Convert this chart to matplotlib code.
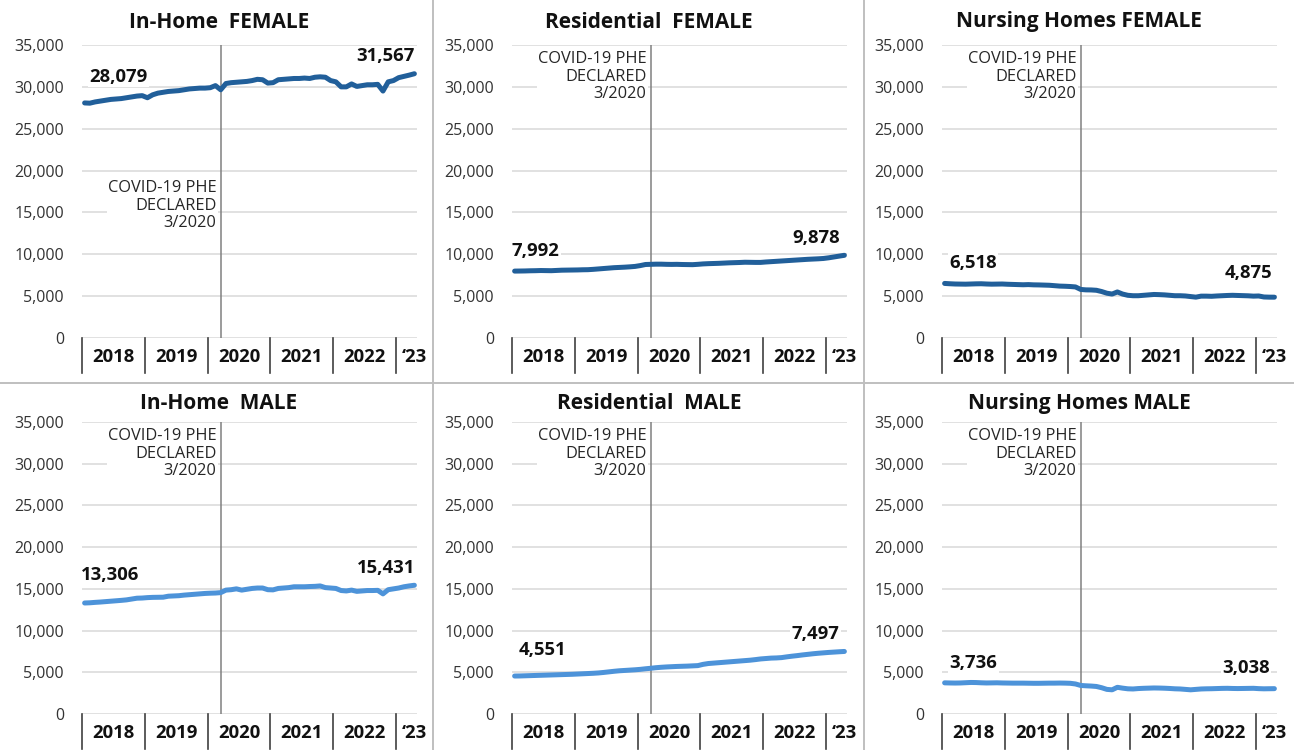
import matplotlib
matplotlib.use('Agg')
import matplotlib.pyplot as plt
from matplotlib.lines import Line2D
from matplotlib.ticker import FuncFormatter

plt.rcParams['font.family'] = ['Open Sans', 'DejaVu Sans']

# Monthly counts, Jan 2018 - Apr 2023
years = ['2018', '2019', '2020', '2021', '2022', '\u201823']
months_per_year = [12, 12, 12, 12, 12, 4]
covid_month = 26  # Mar 2020

in_home_female = [
    28079, 28050, 28200, 28300, 28400, 28500, 28550, 28600, 28700, 28800, 28900, 28950,
    28700, 29050, 29250, 29350, 29450, 29500, 29550, 29650, 29750, 29800, 29850, 29850,
    29900, 30150, 29650, 30400, 30500, 30550, 30600, 30650, 30750, 30900, 30850, 30450,
    30500, 30850, 30900, 30950, 31000, 31000, 31050, 31000, 31150, 31200, 31150, 30750,
    30600, 30000, 30000, 30350, 30050, 30150, 30250, 30250, 30300, 29500, 30600, 30750,
    31100, 31250, 31400, 31567]
residential_female = [
    7992, 8000, 8010, 8030, 8040, 8060, 8050, 8040, 8070, 8100, 8110, 8120,
    8130, 8150, 8160, 8200, 8250, 8300, 8350, 8400, 8430, 8460, 8500, 8550,
    8650, 8780, 8800, 8820, 8820, 8800, 8790, 8800, 8780, 8770, 8760, 8800,
    8850, 8880, 8900, 8920, 8950, 8980, 9000, 9020, 9050, 9040, 9030, 9030,
    9080, 9120, 9160, 9200, 9240, 9280, 9320, 9360, 9400, 9430, 9460, 9500,
    9580, 9680, 9780, 9878]
nursing_female = [
    6518, 6480, 6450, 6440, 6430, 6450, 6470, 6480, 6450, 6430, 6440, 6450,
    6420, 6400, 6380, 6360, 6380, 6350, 6340, 6320, 6300, 6250, 6200, 6180,
    6150, 6100, 5800, 5750, 5740, 5700, 5550, 5350, 5250, 5500, 5250, 5100,
    5050, 5050, 5100, 5150, 5200, 5180, 5150, 5100, 5050, 5050, 5020, 4950,
    4880, 5000, 5000, 4980, 5020, 5050, 5080, 5100, 5080, 5060, 5040, 5000,
    5020, 4900, 4880, 4875]
in_home_male = [
    13306, 13330, 13380, 13420, 13470, 13520, 13570, 13620, 13680, 13780, 13880, 13900,
    13950, 13980, 13990, 14000, 14120, 14150, 14180, 14250, 14300, 14350, 14400, 14450,
    14480, 14500, 14550, 14850, 14900, 15000, 14850, 14950, 15050, 15100, 15100, 14900,
    14880, 15050, 15100, 15150, 15250, 15250, 15250, 15280, 15300, 15350, 15150, 15100,
    15050, 14800, 14750, 14850, 14700, 14750, 14800, 14800, 14820, 14400, 14900, 15000,
    15100, 15250, 15350, 15431]
residential_male = [
    4551, 4560, 4580, 4600, 4620, 4640, 4660, 4680, 4700, 4720, 4740, 4760,
    4790, 4820, 4850, 4880, 4920, 4980, 5050, 5120, 5180, 5220, 5260, 5300,
    5350, 5420, 5480, 5550, 5600, 5640, 5670, 5700, 5720, 5740, 5770, 5800,
    5950, 6050, 6100, 6150, 6200, 6250, 6300, 6350, 6400, 6450, 6520, 6600,
    6650, 6700, 6720, 6760, 6850, 6930, 7000, 7080, 7150, 7220, 7280, 7330,
    7380, 7420, 7460, 7497]
nursing_male = [
    3736, 3720, 3710, 3720, 3750, 3780, 3770, 3740, 3720, 3730, 3740, 3720,
    3710, 3700, 3700, 3700, 3690, 3680, 3680, 3690, 3700, 3700, 3710, 3700,
    3680, 3600, 3420, 3380, 3350, 3300, 3150, 2950, 2900, 3200, 3100, 3020,
    3000, 3050, 3080, 3100, 3120, 3110, 3090, 3060, 3020, 3000, 2950, 2900,
    2950, 3000, 3020, 3030, 3050, 3070, 3080, 3060, 3050, 3060, 3070, 3080,
    3040, 3020, 3030, 3038]

titles = ['In-Home  FEMALE', 'Residential  FEMALE', 'Nursing Homes FEMALE',
          'In-Home  MALE', 'Residential  MALE', 'Nursing Homes MALE']
series = [in_home_female, residential_female, nursing_female,
          in_home_male, residential_male, nursing_male]

FEMALE_COLOR = '#215f9a'
MALE_COLOR = '#4d93d9'
colors = [FEMALE_COLOR] * 3 + [MALE_COLOR] * 3

# label placement: (covid text y, start label (x, y), end label (x, y))
covid_y = [15800, 31200, 31200, 31200, 31200, 31200]
start_pos = [(0.9, 31180), (-0.55, 10430), (0.9, 8920),
             (-0.7, 16670), (0.7, 7670), (0.9, 6080)]
end_pos = [(63.1, 33680), (62.1, 11910), (62.6, 7730),
           (63.1, 17470), (62.1, 9590), (62.1, 5480)]

W, H = 1294, 750
fig = plt.figure(figsize=(W / 100, H / 100), dpi=100)

x = list(range(len(in_home_female)))
bounds = [-0.5]
for n in months_per_year:
    bounds.append(bounds[-1] + n)
year_centers = [(bounds[k] + bounds[k + 1]) / 2 for k in range(len(years))]
year_centers[-1] = 63.0

for i in range(6):
    col, row = i % 3, i // 3
    px = [0, 430, 860][col]
    y0 = [338, 714][row]
    ytop = [45, 422][row]
    ax = fig.add_axes([(px + 82) / W, 1 - y0 / H, 335 / W, (y0 - ytop) / H])
    ax.set_xlim(-0.5, 63.5)
    ax.set_ylim(0, 35000)
    ax.set_yticks(range(0, 35001, 5000))
    ax.yaxis.set_major_formatter(FuncFormatter(lambda v, p: f'{int(v):,}'))
    ax.yaxis.grid(True, color='#d9d9d9', lw=1.1)
    ax.set_axisbelow(True)
    for s in ax.spines.values():
        s.set_visible(False)
    ax.set_xticks([])
    ax.tick_params(axis='y', length=0, pad=13, labelsize=11.5, labelcolor='#333333')

    ax.axvline(covid_month, color='#808080', lw=1.1, zorder=2)
    ax.plot(x, series[i], color=colors[i], lw=3.6, solid_capstyle='round',
            solid_joinstyle='round', zorder=3)

    ax.text(25.2, covid_y[i], 'COVID-19 PHE\nDECLARED\n3/2020', ha='right', va='center',
            fontsize=11.8, color='#262626', linespacing=1.12, zorder=4,
            bbox=dict(fc='white', ec='none', pad=1))

    v0, v1 = series[i][0], series[i][-1]
    ax.text(start_pos[i][0], start_pos[i][1], f'{v0:,}', ha='left', va='center',
            fontsize=13.3, fontweight='bold', color='#111111', zorder=5,
            bbox=dict(fc='white', ec='none', pad=1))
    ax.text(end_pos[i][0], end_pos[i][1], f'{v1:,}', ha='right', va='center',
            fontsize=13.3, fontweight='bold', color='#111111', zorder=5,
            bbox=dict(fc='white', ec='none', pad=1))

    # category axis: year separators and labels
    trans = ax.get_xaxis_transform()
    for b in bounds[:-1]:
        ax.plot([b, b], [0, -35 / (y0 - ytop)], transform=trans, color='#404040',
                lw=1.2, clip_on=False)
    for yr, xc in zip(years, year_centers):
        ax.text(xc, -19 / (y0 - ytop), yr, transform=trans, ha='center', va='center',
                fontsize=13.3, fontweight='bold', color='#111111')

    fig.text((px + 219) / W, 1 - [22, 404][row] / H, titles[i], ha='center',
             va='center', fontsize=15, fontweight='bold', color='#111111')

# panel dividers
fig.add_artist(Line2D([0, 1], [1 - 383 / H] * 2, color='#bfbfbf', lw=1.4))
for xd in (433, 864):
    fig.add_artist(Line2D([xd / W] * 2, [0, 1], color='#bfbfbf', lw=1.4))

fig.savefig('out.png', dpi=100)
